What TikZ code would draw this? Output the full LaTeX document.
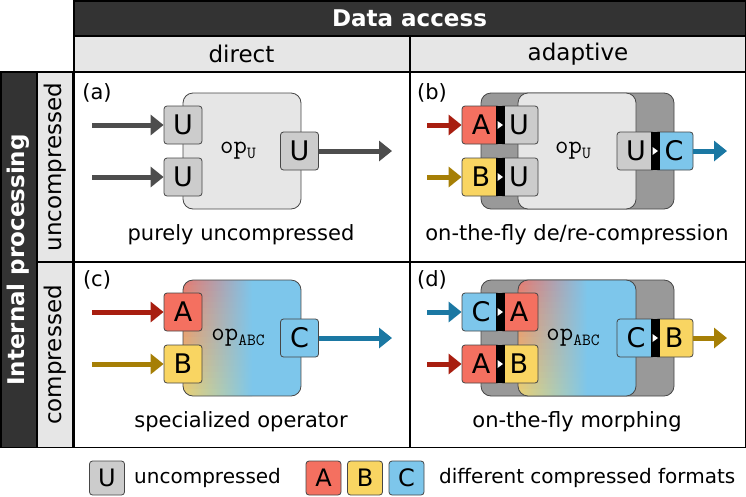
\documentclass[tikz,border=0pt]{standalone}
\usepackage{fontspec}
\setmainfont{DejaVu Sans}
\usetikzlibrary{arrows.meta}
\definecolor{hdrdark}{RGB}{51,51,51}
\definecolor{hdrlight}{RGB}{230,230,230}
\definecolor{fmtU}{RGB}{204,204,204}
\definecolor{fmtA}{RGB}{244,112,96}
\definecolor{fmtB}{RGB}{249,213,98}
\definecolor{fmtC}{RGB}{125,198,235}
\definecolor{opgray}{RGB}{230,230,230}
\definecolor{backgray}{RGB}{153,153,153}
\definecolor{edgegray}{RGB}{70,70,70}
\definecolor{arrU}{RGB}{77,77,77}
\definecolor{arrA}{RGB}{168,30,16}
\definecolor{arrB}{RGB}{166,127,6}
\definecolor{arrC}{RGB}{27,120,163}

\begin{document}
\begin{tikzpicture}[x=1pt, y=-1pt]
          \tikzstyle{every node}=[font=\fontsize{21}{25}\selectfont, inner sep=0pt]
          \tikzstyle{hdr}=[font=\fontsize{23}{27}\selectfont]
          \tikzstyle{fmt}=[draw=edgegray, line width=0.8pt, rounded corners=3pt, minimum width=38pt, minimum height=38pt, font=\fontsize{27}{30}\selectfont]
          \tikzstyle{legfmt}=[fmt, minimum width=35pt, minimum height=34pt, font=\fontsize{24}{28}\selectfont]
          \tikzstyle{opbox}=[draw=edgegray, line width=0.8pt, rounded corners=10pt, minimum width=118pt, minimum height=116pt, fill=opgray, font=\ttfamily\fontsize{26}{30}\selectfont]
          \tikzstyle{opmix}=[opbox, fill=none]
          \tikzstyle{backbox}=[draw=edgegray, line width=0.8pt, rounded corners=10pt, minimum width=193pt, minimum height=116pt, fill=backgray]
          \tikzstyle{flow}=[line width=5pt, -{Triangle[length=13pt,width=20pt]}]
          \useasboundingbox (0,0) rectangle (746,496);

          % header bands
          \fill[hdrdark] (73,0) rectangle (746,36);
          \fill[hdrlight] (73,36) rectangle (746,72);
          \fill[hdrdark] (0,72) rectangle (37,448);
          \fill[hdrlight] (37,72) rectangle (73,448);
          \draw[line width=1.5pt] (73.75,0.75) rectangle (745.25,447.25);
          \draw[line width=1.5pt] (0.75,72) rectangle (73,447.25);
          \draw[line width=1.5pt] (73,36) -- (746,36);
          \draw[line width=1.5pt] (73,72) -- (746,72);
          \draw[line width=1.5pt] (410,36) -- (410,448);
          \draw[line width=1.5pt] (37,262) -- (746,262);
          \draw[line width=1.5pt] (37,72) -- (37,448);
          \node[hdr, text=white, font=\bfseries\fontsize{23}{27}\selectfont] (access) at (409.5,18) {Data access};
          \node[hdr] (direct) at (241.5,54) {direct};
          \node[hdr] (adaptive) at (578,54) {adaptive};
          \node[hdr, text=white, font=\bfseries\fontsize{23}{27}\selectfont, rotate=90] (internal) at (18.5,260) {Internal processing};
          \node[hdr, rotate=90] (uncomp) at (55,167) {uncompressed};
          \node[hdr, rotate=90] (comp) at (55,355) {compressed};

          % (a) purely uncompressed
          \node (la) at (97,93) {(a)};
          \node[opbox] (opa) at (242,151) {op\raisebox{-5pt}{\fontsize{17}{17}\selectfont U}\hspace*{8pt}};
          \node[fmt, fill=fmtU] (ain1) at (183,125) {U};
          \node[fmt, fill=fmtU] (ain2) at (183,177) {U};
          \node[fmt, fill=fmtU] (aout) at (299.5,151) {U};
          \coordinate (asrc1) at (92,125);
          \coordinate (asrc2) at (92,177);
          \coordinate (adst) at (392,151);
          \draw[flow, arrU] (asrc1) -- (ain1);
          \draw[flow, arrU] (asrc2) -- (ain2);
          \draw[flow, arrU] (aout) -- (adst);
          \node (capa) at (241,235) {purely uncompressed};

          % (b) on-the-fly de/re-compression
          \node (lb) at (432,93) {(b)};
          \node[backbox] (backb) at (577.5,151) {};
          \node[opbox] (opb) at (577,151) {op\raisebox{-5pt}{\fontsize{17}{17}\selectfont U}\hspace*{8pt}};
          \node (capb) at (577,235) {on-the-fly de/re-compression};

          % (d) backdrop first, then both mixed operators
          \node[backbox] (backd) at (577.5,338) {};
          % red/yellow on the left running into blue on the right
          \foreach \cx/\cy in {242/338, 577/338}{
            \begin{scope}
              \clip[rounded corners=10pt] ({\cx-59},{\cy-58}) rectangle ({\cx+59},{\cy+58});
              \fill[fmtC] ({\cx-59},{\cy-58}) rectangle ({\cx+59},{\cy+58});
              \foreach \i in {0,...,19}{
                \pgfmathtruncatemacro\mix{100-5*\i}
                \path[left color=fmtA!\mix!fmtB!88!fmtC, right color=fmtC]
                  ({\cx-60},{\cy-58+\i*5.8-0.4}) rectangle ({\cx+10},{\cy-58+\i*5.8+6.2});
              }
            \end{scope}
          }

          % (c) specialized operator
          \node (lc) at (97,280) {(c)};
          \node[opmix] (opc) at (242,338) {op\raisebox{-5pt}{\fontsize{17}{17}\selectfont ABC}\hspace*{8pt}};
          \node[fmt, fill=fmtA] (cin1) at (183,312) {A};
          \node[fmt, fill=fmtB] (cin2) at (183,364) {B};
          \node[fmt, fill=fmtC] (cout) at (299.5,338) {C};
          \coordinate (csrc1) at (92,312);
          \coordinate (csrc2) at (92,364);
          \coordinate (cdst) at (392,338);
          \draw[flow, arrA] (csrc1) -- (cin1);
          \draw[flow, arrB] (csrc2) -- (cin2);
          \draw[flow, arrC] (cout) -- (cdst);
          \node (capc) at (241,422) {specialized operator};

          % (d) on-the-fly morphing
          \node (ld) at (432,280) {(d)};
          \node[opmix] (opd) at (577,338) {op\raisebox{-5pt}{\fontsize{17}{17}\selectfont ABC}\hspace*{8pt}};
          \node (capd) at (577,422) {on-the-fly morphing};

          % converter pairs of (b) and (d)
          \foreach \nm/\x/\y/\cl/\cr/\tl/\tr in {bin1/462/125/fmtA/fmtU/A/U, bin2/462/177/fmtB/fmtU/B/U, bout/617/151/fmtU/fmtC/U/C,
                                               din1/462/312/fmtC/fmtA/C/A, din2/462/364/fmtA/fmtB/A/B, dout/617/338/fmtC/fmtB/C/B}{
            \node[fmt, fill=\cl] (\nm-l) at ({\x+19},\y) {\tl};
            \node[fmt, fill=\cr] (\nm-r) at ({\x+57},\y) {\tr};
            \fill ({\x+33.5},{\y-19.4}) rectangle ({\x+42.5},{\y+19.4});
            \fill[white] ({\x+35.5},{\y-4}) -- ({\x+35.5},{\y+4}) -- ({\x+41},\y) -- cycle;
          }
          \coordinate (bsrc1) at (427,125);
          \coordinate (bsrc2) at (427,177);
          \coordinate (bdst) at (727,151);
          \draw[flow, arrA] (bsrc1) -- (bin1-l);
          \draw[flow, arrB] (bsrc2) -- (bin2-l);
          \draw[flow, arrC] (bout-r) -- (bdst);
          \coordinate (dsrc1) at (427,312);
          \coordinate (dsrc2) at (427,364);
          \coordinate (ddst) at (727,338);
          \draw[flow, arrC] (dsrc1) -- (din1-l);
          \draw[flow, arrA] (dsrc2) -- (din2-l);
          \draw[flow, arrB] (dout-r) -- (ddst);

          % legend
          \node[legfmt, fill=fmtU] (legU) at (107,478) {U};
          \node[anchor=west, font=\fontsize{20}{24}\selectfont] (legUtxt) at (134,478) {uncompressed};
          \node[legfmt, fill=fmtA] (legA) at (323.5,478) {A};
          \node[legfmt, fill=fmtB] (legB) at (365,478) {B};
          \node[legfmt, fill=fmtC] (legC) at (406.5,478) {C};
          \node[anchor=west, font=\fontsize{20}{24}\selectfont] (legABCtxt) at (439,478) {different compressed formats};
        \end{tikzpicture}
\end{document}
